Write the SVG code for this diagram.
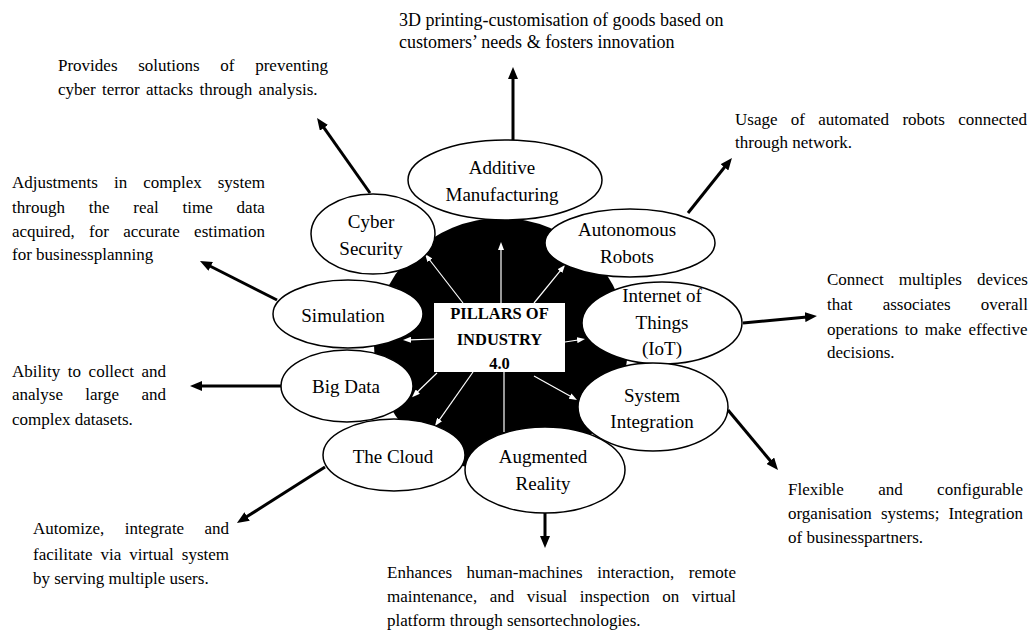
<svg xmlns="http://www.w3.org/2000/svg" width="1034" height="633" viewBox="0 0 1034 633">
<defs>
<style>
.node{fill:#fff;stroke:#000;stroke-width:1.5}
.lbl{font-family:"Liberation Serif","Times New Roman",serif;font-size:19px;fill:#000;text-anchor:middle}
.ctr{font-family:"Liberation Serif","Times New Roman",serif;font-size:16.5px;font-weight:bold;fill:#000;text-anchor:middle}
.desc{font-family:"Liberation Serif","Times New Roman",serif;font-size:17px;fill:#000}
.thick{stroke:#000;stroke-width:3;fill:none;marker-end:url(#ah)}
.thin{stroke:#fff;stroke-width:1.2;fill:none;marker-end:url(#wh)}
</style>
<marker id="ah" markerUnits="userSpaceOnUse" markerWidth="12" markerHeight="10" refX="2" refY="5" orient="auto"><path d="M0,0 L12,5 L0,10 z" fill="#000"/></marker>
<marker id="wh" markerUnits="userSpaceOnUse" markerWidth="8" markerHeight="6" refX="1" refY="3" orient="auto"><path d="M0,0 L8,3 L0,6 z" fill="#fff"/></marker>
</defs>
<rect width="1034" height="633" fill="#fff"/>
<circle id="hub-bg" cx="501" cy="345" r="127" fill="#000"/>
<g id="connectors">
<line class="thick" x1="513" y1="140" x2="513" y2="77"/>
<line class="thick" x1="370" y1="193" x2="322.8" y2="126.2"/>
<line class="thick" x1="688" y1="213" x2="725.7" y2="165.8"/>
<line class="thick" x1="277" y1="300" x2="208.9" y2="265.5"/>
<line class="thick" x1="743" y1="323" x2="807" y2="316.9"/>
<line class="thick" x1="281" y1="386" x2="200" y2="386"/>
<line class="thick" x1="325" y1="467" x2="245.4" y2="517.6"/>
<line class="thick" x1="545" y1="513" x2="545" y2="538"/>
<line class="thick" x1="728" y1="410" x2="771.6" y2="462.3"/>
<line class="thin" x1="463" y1="303" x2="429.3" y2="259.5"/>
<line class="thin" x1="501" y1="303" x2="501" y2="249"/>
<line class="thin" x1="534" y1="303" x2="560.6" y2="270.4"/>
<line class="thin" x1="434" y1="339" x2="410" y2="339.8"/>
<line class="thin" x1="565" y1="342" x2="578.1" y2="340"/>
<line class="thin" x1="437" y1="373" x2="417.1" y2="392.3"/>
<line class="thin" x1="473" y1="372" x2="439" y2="420.3"/>
<line stroke="#fff" stroke-width="1.2" x1="504" y1="372" x2="504" y2="432"/>
<line class="thin" x1="534" y1="376" x2="570.9" y2="396.6"/>
</g>
<g id="additive">
<ellipse class="node" cx="505" cy="180" rx="97" ry="40"/>
<text class="lbl" x="502" y="174">Additive</text>
<text class="lbl" x="502" y="201">Manufacturing</text>
</g>
<g id="cyber">
<ellipse class="node" cx="373" cy="234" rx="62" ry="40"/>
<text class="lbl" x="371" y="228">Cyber</text>
<text class="lbl" x="371" y="255">Security</text>
</g>
<g id="robots">
<ellipse class="node" cx="630" cy="243" rx="85" ry="34"/>
<text class="lbl" x="627" y="236">Autonomous</text>
<text class="lbl" x="627" y="263">Robots</text>
</g>
<g id="simulation">
<ellipse class="node" cx="348" cy="314" rx="75" ry="34"/>
<text class="lbl" x="343" y="322">Simulation</text>
</g>
<g id="iot">
<ellipse class="node" cx="662" cy="323" rx="80" ry="41"/>
<text class="lbl" x="662" y="302">Internet of</text>
<text class="lbl" x="662" y="329">Things</text>
<text class="lbl" x="662" y="355">(IoT)</text>
</g>
<g id="bigdata">
<ellipse class="node" cx="347" cy="386" rx="66" ry="36"/>
<text class="lbl" x="346" y="393">Big Data</text>
</g>
<g id="sysint">
<ellipse class="node" cx="653" cy="407" rx="75" ry="44"/>
<text class="lbl" x="652" y="402">System</text>
<text class="lbl" x="652" y="428">Integration</text>
</g>
<g id="cloud">
<ellipse class="node" cx="394" cy="455" rx="71" ry="36"/>
<text class="lbl" x="393" y="463">The Cloud</text>
</g>
<g id="ar">
<ellipse class="node" cx="545" cy="470" rx="80" ry="43"/>
<text class="lbl" x="543" y="463">Augmented</text>
<text class="lbl" x="543" y="490">Reality</text>
</g>
<g id="center">
<rect x="434" y="303" width="131" height="69" fill="#fff"/>
<text class="ctr" x="499.5" y="319">PILLARS OF</text>
<text class="ctr" x="499.5" y="345">INDUSTRY</text>
<text class="ctr" x="499.5" y="369">4.0</text>
</g>
<g id="desc-additive">
<text class="desc" style="font-size:18px" x="399" y="26">3D printing-customisation of goods based on</text>
<text class="desc" style="font-size:18px" x="399" y="48">customers’ needs &amp; fosters innovation</text>
</g>
<g id="desc-cyber">
<text class="desc" y="71"><tspan x="58">Provides</tspan><tspan x="138.2">solutions</tspan><tspan x="220.3">of</tspan><tspan x="255.2">preventing</tspan></text>
<text class="desc" x="58" y="95" word-spacing="2">cyber terror attacks through analysis.</text>
</g>
<g id="desc-simulation">
<text class="desc" y="188"><tspan x="12">Adjustments</tspan><tspan x="114">in</tspan><tspan x="143.2">complex</tspan><tspan x="217.7">system</tspan></text>
<text class="desc" y="213"><tspan x="12">through</tspan><tspan x="88.7">the</tspan><tspan x="133.3">real</tspan><tspan x="182.6">time</tspan><tspan x="236.6">data</tspan></text>
<text class="desc" y="237"><tspan x="12">acquired,</tspan><tspan x="89.1">for</tspan><tspan x="123.2">accurate</tspan><tspan x="194.1">estimation</tspan></text>
<text class="desc" x="12" y="260">for businessplanning</text>
</g>
<g id="desc-robots">
<text class="desc" y="125"><tspan x="735">Usage</tspan><tspan x="790.8">of</tspan><tspan x="818.3">automated</tspan><tspan x="902.4">robots</tspan><tspan x="958.2">connected</tspan></text>
<text class="desc" x="735" y="148">through network.</text>
</g>
<g id="desc-iot">
<text class="desc" y="285"><tspan x="827">Connect</tspan><tspan x="898.7">multiples</tspan><tspan x="977">devices</tspan></text>
<text class="desc" y="310"><tspan x="827">that</tspan><tspan x="882.7">associates</tspan><tspan x="980.8">overall</tspan></text>
<text class="desc" y="335"><tspan x="827">operations</tspan><tspan x="904.7">to</tspan><tspan x="924.8">make</tspan><tspan x="968.5">effective</tspan></text>
<text class="desc" x="827" y="358">decisions.</text>
</g>
<g id="desc-bigdata">
<text class="desc" y="377"><tspan x="12">Ability</tspan><tspan x="67.8">to</tspan><tspan x="88.6">collect</tspan><tspan x="141.5">and</tspan></text>
<text class="desc" y="400"><tspan x="12">analyse</tspan><tspan x="85.3">large</tspan><tspan x="141.5">and</tspan></text>
<text class="desc" x="12" y="425">complex datasets.</text>
</g>
<g id="desc-cloud">
<text class="desc" y="534"><tspan x="33">Automize,</tspan><tspan x="124.7">integrate</tspan><tspan x="204.5">and</tspan></text>
<text class="desc" y="560"><tspan x="33">facilitate</tspan><tspan x="100.5">via</tspan><tspan x="129.3">virtual</tspan><tspan x="181.8">system</tspan></text>
<text class="desc" x="33" y="584">by serving multiple users.</text>
</g>
<g id="desc-ar">
<text class="desc" y="578"><tspan x="387">Enhances</tspan><tspan x="466.6">human-machines</tspan><tspan x="597.2">interaction,</tspan><tspan x="688.8">remote</tspan></text>
<text class="desc" y="602"><tspan x="387">maintenance,</tspan><tspan x="489.7">and</tspan><tspan x="526.7">visual</tspan><tspan x="579.8">inspection</tspan><tspan x="662.2">on</tspan><tspan x="691.7">virtual</tspan></text>
<text class="desc" x="387" y="626">platform through sensortechnologies.</text>
</g>
<g id="desc-sysint">
<text class="desc" y="495"><tspan x="788">Flexible</tspan><tspan x="878.2">and</tspan><tspan x="937.1">configurable</tspan></text>
<text class="desc" y="519"><tspan x="788">organisation</tspan><tspan x="880.9">systems;</tspan><tspan x="948.4">Integration</tspan></text>
<text class="desc" x="788" y="543">of businesspartners.</text>
</g>
</svg>
